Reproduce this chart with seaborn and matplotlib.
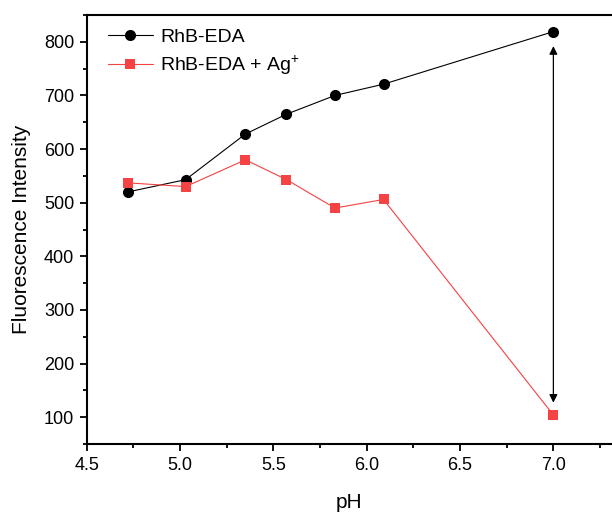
import matplotlib
matplotlib.use("Agg")
import matplotlib.pyplot as plt
from matplotlib.ticker import MultipleLocator
import seaborn as sns
import pandas as pd

ph = [4.72, 5.03, 5.35, 5.57, 5.83, 6.09, 7.0]
rhb_eda = [520, 543, 628, 665, 700, 721, 819]
rhb_eda_ag = [537, 530, 580, 543, 490, 506, 104]
label_a = "RhB-EDA"
label_b = "RhB-EDA + Ag$^{+}$"

sns.set_theme(style="ticks")
plt.rcParams['font.family'] = ['Liberation Sans', 'DejaVu Sans']
plt.rcParams['mathtext.fontset'] = 'custom'
plt.rcParams['mathtext.rm'] = 'Liberation Sans'
plt.rcParams['mathtext.it'] = 'Liberation Sans'
plt.rcParams['text.color'] = 'black'
plt.rcParams['axes.labelcolor'] = 'black'
plt.rcParams['xtick.color'] = 'black'
plt.rcParams['ytick.color'] = 'black'
plt.rcParams['axes.edgecolor'] = 'black'

fig = plt.figure(figsize=(6.12, 5.12), dpi=100)
ax = fig.add_axes([0.1417, 0.1328, 1 - 0.1417, 0.8379])

df_a = pd.DataFrame({"pH": ph, "val": rhb_eda})
df_b = pd.DataFrame({"pH": ph, "val": rhb_eda_ag})

sns.lineplot(data=df_a, x="pH", y="val", ax=ax, color="black", lw=0.8,
             marker="o", markersize=8, markeredgewidth=0, label=label_a)
sns.lineplot(data=df_b, x="pH", y="val", ax=ax, color="#f54242", lw=0.8,
             marker="s", markersize=7, markeredgewidth=0, label=label_b)

ax.annotate("", xy=(7.0, 127), xytext=(7.0, 792),
            arrowprops=dict(arrowstyle="<|-|>", color="black", lw=0.9,
                            mutation_scale=12, shrinkA=0, shrinkB=0))

ax.set_xlim(4.5, 7.314)
ax.set_ylim(50, 850)
ax.xaxis.set_minor_locator(MultipleLocator(0.25))
ax.yaxis.set_minor_locator(MultipleLocator(50))
ax.set_xticks([4.5, 5.0, 5.5, 6.0, 6.5, 7.0])
ax.set_xticklabels(["4.5", "5.0", "5.5", "6.0", "6.5", "7.0"])
ax.set_yticks([100, 200, 300, 400, 500, 600, 700, 800])

ax.tick_params(which="major", direction="out", length=5, width=1.3, labelsize=13, pad=4)
ax.tick_params(which="minor", direction="out", length=3, width=1.3)
for s in ["left", "bottom", "top"]:
    ax.spines[s].set_linewidth(1.5)
ax.spines["right"].set_visible(False)

ax.set_xlabel("pH", fontsize=15, labelpad=14)
ax.set_ylabel("Fluorescence Intensity", fontsize=15, labelpad=9)

leg = ax.legend(loc="upper left", frameon=False, fontsize=14,
                handlelength=2.3, handletextpad=0.4, labelspacing=0.4,
                bbox_to_anchor=(0.007, 1.01))

fig.savefig("out.png", dpi=100)
